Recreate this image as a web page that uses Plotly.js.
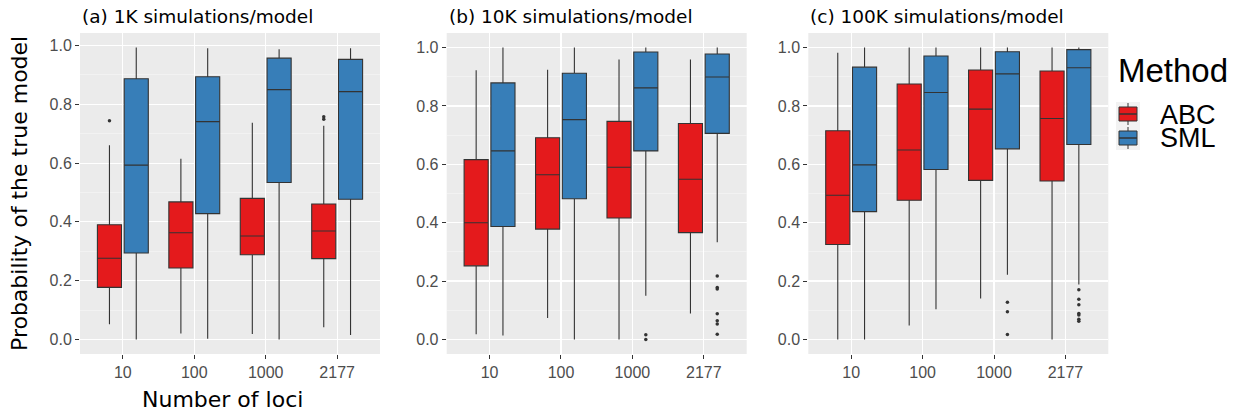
<!DOCTYPE html>
<html>
<head>
<meta charset="utf-8">
<script src="https://cdn.plot.ly/plotly-3.0.1.min.js"></script>
<style>html,body{margin:0;padding:0;background:#fff;}#chart{width:1238px;height:413px;}</style>
</head>
<body>
<div id="chart"></div>
<script>
// ---------- data ----------
const loci = ['10', '100', '1000', '2177'];
const methods = ['ABC', 'SML'];
const methodColors = ['#E41A1C', '#377EB8'];
const panelTitles = ['(a) 1K simulations/model', '(b) 10K simulations/model', '(c) 100K simulations/model'];

// panel (a) 1K simulations/model
const abc1K = {
  lf:  [0.052, 0.020, 0.018, 0.041],
  q1:  [0.177, 0.243, 0.288, 0.275],
  med: [0.276, 0.363, 0.352, 0.369],
  q3:  [0.390, 0.468, 0.480, 0.461],
  uf:  [0.661, 0.615, 0.737, 0.727],
  out: [[0.744], [], [], [0.758, 0.749]]
};
const sml1K = {
  lf:  [0.000, 0.002, 0.000, 0.015],
  q1:  [0.294, 0.428, 0.534, 0.477],
  med: [0.593, 0.741, 0.850, 0.843],
  q3:  [0.887, 0.894, 0.957, 0.953],
  uf:  [0.993, 0.991, 0.987, 0.991],
  out: [[], [], [], []]
};
// panel (b) 10K simulations/model
const abc10K = {
  lf:  [0.018, 0.073, 0.000, 0.089],
  q1:  [0.252, 0.378, 0.416, 0.366],
  med: [0.400, 0.564, 0.590, 0.549],
  q3:  [0.616, 0.691, 0.747, 0.740],
  uf:  [0.922, 0.924, 0.959, 0.959],
  out: [[], [], [], []]
};
const sml10K = {
  lf:  [0.013, 0.000, 0.150, 0.333],
  q1:  [0.387, 0.482, 0.646, 0.706],
  med: [0.646, 0.753, 0.862, 0.899],
  q3:  [0.879, 0.912, 0.985, 0.978],
  uf:  [1.000, 1.000, 1.000, 1.000],
  out: [[], [], [0.016, 0.000], [0.217, 0.178, 0.173, 0.088, 0.064, 0.053, 0.018]]
};
// panel (c) 100K simulations/model
const abc100K = {
  lf:  [0.000, 0.048, 0.140, 0.000],
  q1:  [0.325, 0.477, 0.545, 0.543],
  med: [0.494, 0.649, 0.789, 0.757],
  q3:  [0.715, 0.875, 0.923, 0.920],
  uf:  [0.982, 1.000, 1.000, 1.000],
  out: [[], [], [], []]
};
const sml100K = {
  lf:  [0.000, 0.103, 0.222, 0.188],
  q1:  [0.438, 0.582, 0.653, 0.668],
  med: [0.598, 0.846, 0.910, 0.931],
  q3:  [0.933, 0.971, 0.986, 0.993],
  uf:  [1.000, 1.000, 1.000, 1.000],
  out: [[], [], [0.127, 0.095, 0.017], [0.170, 0.138, 0.119, 0.089, 0.084, 0.069, 0.062]]
};

const panels = [[abc1K, sml1K], [abc10K, sml10K], [abc100K, sml100K]];

// ---------- layout geometry ----------
const W = 1238, H = 413;
const panelLeft = [80, 446.7, 808.3];
const panelWidth = 300;
const panelTop = 33, panelBottom = 354;
const px = v => v / W;
const py = v => 1 - v / H;
const dodge = 0.1875;          // half of ggplot's 0.75 dodge width
const boxWidth = 0.375 * 0.9;  // dodge2 padding 0.1
const catPos = loci.map((_, i) => i + 1);

const traces = [];
const layout = {
  width: W, height: H,
  margin: {l: 0, r: 0, t: 0, b: 0},
  paper_bgcolor: '#FFFFFF',
  plot_bgcolor: '#EBEBEB',
  showlegend: false,
  boxmode: 'overlay',
  annotations: [],
  shapes: []
};

const tickFont = {family: 'Liberation Sans, Arial, sans-serif', size: 16, color: '#4D4D4D'};

panels.forEach((series, p) => {
  const sfx = p === 0 ? '' : String(p + 1);
  let lo = Infinity, hi = -Infinity;
  series.forEach((s, m) => {
    const off = m === 0 ? -dodge : dodge;
    const xs = catPos.map(c => c + off);
    s.lf.forEach(v => { lo = Math.min(lo, v); });
    s.uf.forEach(v => { hi = Math.max(hi, v); });
    traces.push({
      type: 'box',
      orientation: 'v',
      name: methods[m],
      x: xs,
      q1: s.q1, median: s.med, q3: s.q3,
      lowerfence: s.lf, upperfence: s.uf,
      width: boxWidth,
      boxpoints: false,
      fillcolor: methodColors[m],
      line: {color: '#333333', width: 1.1},
      whiskerwidth: 0,
      xaxis: 'x' + sfx, yaxis: 'y' + sfx,
      hoverinfo: 'skip'
    });
    const ox = [], oy = [];
    s.out.forEach((arr, i) => arr.forEach(v => {
      ox.push(xs[i]); oy.push(v);
      lo = Math.min(lo, v); hi = Math.max(hi, v);
    }));
    if (ox.length) {
      traces.push({
        type: 'scatter', mode: 'markers', name: methods[m] + ' outliers',
        x: ox, y: oy,
        marker: {color: '#333333', size: 3.5, line: {width: 0}},
        xaxis: 'x' + sfx, yaxis: 'y' + sfx,
        hoverinfo: 'skip'
      });
    }
  });
  const pad = 0.05 * (hi - lo);
  layout['xaxis' + sfx] = {
    type: 'linear',
    domain: [px(panelLeft[p]), px(panelLeft[p] + panelWidth)],
    anchor: 'y' + sfx,
    range: [0.4, 4.6],
    tickmode: 'array', tickvals: catPos, ticktext: loci,
    showgrid: true, gridcolor: '#FFFFFF', gridwidth: 1.1,
    zeroline: false, showline: false,
    ticks: 'outside', ticklen: 4, tickwidth: 1, tickcolor: '#333333',
    tickfont: tickFont,
    fixedrange: true
  };
  layout['yaxis' + sfx] = {
    domain: [py(panelBottom), py(panelTop)],
    anchor: 'x' + sfx,
    range: [lo - pad, hi + pad],
    tick0: 0, dtick: 0.2, tickformat: '.1f',
    showgrid: true, gridcolor: '#FFFFFF', gridwidth: 1.1,
    minor: {tick0: 0, dtick: 0.1, showgrid: true, gridcolor: '#F6F6F6', gridwidth: 0.6, ticks: ''},
    zeroline: false, showline: false,
    ticks: 'outside', ticklen: 4, tickwidth: 1, tickcolor: '#333333',
    tickfont: tickFont,
    fixedrange: true
  };
  layout.annotations.push({
    text: panelTitles[p], xref: 'paper', yref: 'paper',
    x: px(panelLeft[p]), y: py(16.5), xanchor: 'left', yanchor: 'middle',
    showarrow: false,
    font: {family: 'DejaVu Sans, sans-serif', size: 18.5, color: '#000000'}
  });
});

// axis titles
layout.annotations.push({
  text: 'Number of loci', xref: 'paper', yref: 'paper',
  x: px(223), y: py(399), xanchor: 'center', yanchor: 'middle', showarrow: false,
  font: {family: 'DejaVu Sans, sans-serif', size: 22, color: '#000000'}
});
layout.annotations.push({
  text: 'Probability of the true model', xref: 'paper', yref: 'paper',
  x: px(19), y: py(194), xanchor: 'center', yanchor: 'middle', textangle: -90, showarrow: false,
  font: {family: 'DejaVu Sans, sans-serif', size: 22, color: '#000000'}
});

// legend (drawn manually to follow the ggplot legend layout)
layout.annotations.push({
  text: 'Method', xref: 'paper', yref: 'paper',
  x: px(1116), y: py(70), xanchor: 'left', yanchor: 'middle', showarrow: false,
  font: {family: 'Liberation Sans, Arial, sans-serif', size: 33, color: '#000000'}
});
methods.forEach((name, m) => {
  const cy = 114 + m * 24;
  layout.shapes.push({type: 'rect', xref: 'paper', yref: 'paper',
    x0: px(1116), x1: px(1140), y0: py(cy - 12), y1: py(cy + 12),
    fillcolor: '#F2F2F2', line: {width: 0}, layer: 'below'});
  layout.shapes.push({type: 'line', xref: 'paper', yref: 'paper',
    x0: px(1128), x1: px(1128), y0: py(cy - 11), y1: py(cy + 11),
    line: {color: '#333333', width: 1}});
  layout.shapes.push({type: 'rect', xref: 'paper', yref: 'paper',
    x0: px(1119), x1: px(1137), y0: py(cy - 7), y1: py(cy + 7),
    fillcolor: methodColors[m], line: {color: '#333333', width: 1}});
  layout.shapes.push({type: 'line', xref: 'paper', yref: 'paper',
    x0: px(1119), x1: px(1137), y0: py(cy), y1: py(cy),
    line: {color: '#333333', width: 1.5}});
  layout.annotations.push({
    text: name, xref: 'paper', yref: 'paper',
    x: px(1158), y: py(cy), xanchor: 'left', yanchor: 'middle', showarrow: false,
    height: 23,
    font: {family: 'Liberation Sans, Arial, sans-serif', size: 27, color: '#000000'}
  });
});

Plotly.newPlot('chart', traces, layout, {displayModeBar: false, staticPlot: true});
</script>
</body>
</html>
